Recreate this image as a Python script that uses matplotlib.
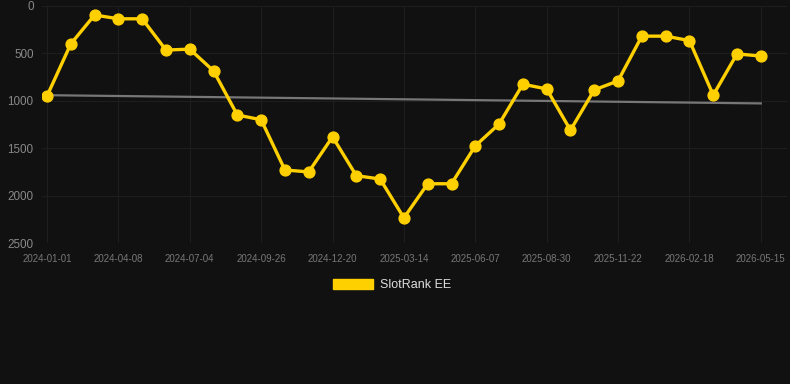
import numpy as np
import matplotlib.pyplot as plt
from matplotlib.patches import Patch

plt.rcParams['font.family'] = ['Liberation Sans', 'DejaVu Sans']

# rank per sample point, evenly spaced; only every third date is labelled
rank = [950, 400, 95, 135, 135, 465, 455, 685, 1150, 1200,
        1730, 1750, 1380, 1790, 1825, 2235, 1875, 1875, 1475, 1245,
        825, 875, 1310, 885, 790, 318, 318, 365, 940, 505, 528]
tick_labels = ['2024-01-01', '2024-04-08', '2024-07-04', '2024-09-26', '2024-12-20',
               '2025-03-14', '2025-06-07', '2025-08-30', '2025-11-22', '2026-02-18',
               '2026-05-15']

bg = '#111111'
yellow = '#FFD000'
x = np.arange(len(rank))

fig = plt.figure(figsize=(7.9, 3.84), dpi=100, facecolor=bg)
ax = fig.add_axes([42/790, 1-243/384, 745/790, 237/384])
ax.set_facecolor(bg)

# linear trend
m, c = np.polyfit(x, rank, 1)
ax.plot(x, m*x + c, color='#777777', lw=1.6, zorder=2)

ax.plot(x, rank, color=yellow, lw=2.4, marker='o', ms=7.8, zorder=3)

ax.set_ylim(2500, 0)
ax.set_yticks([0, 500, 1000, 1500, 2000, 2500])
ax.set_xlim(-0.21, 31.1)
ax.set_xticks(x[::3])
ax.set_xticklabels(tick_labels)

ax.grid(True, color='#1e1e1e', lw=0.8)
ax.set_axisbelow(True)
for s in ax.spines.values():
    s.set_visible(False)
ax.tick_params(axis='both', length=0)
ax.tick_params(axis='y', colors='#888888', labelsize=8.4, pad=6)
ax.tick_params(axis='x', colors='#777777', labelsize=7, pad=8)

fig.legend(handles=[Patch(color=yellow, label='SlotRank EE')], loc='center',
           bbox_to_anchor=(392/790, 1-285/384), frameon=False,
           fontsize=9, labelcolor='#dddddd', handlelength=3.2, handleheight=0.9,
           handletextpad=0.5)

fig.savefig('out.png', dpi=100, facecolor=bg)
